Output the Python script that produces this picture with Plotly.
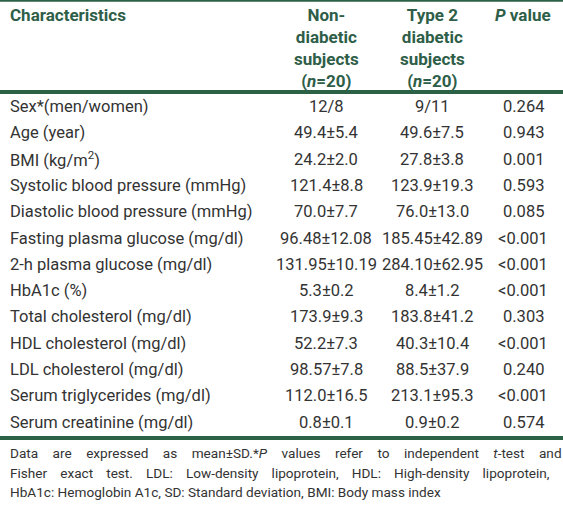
import plotly.graph_objects as go

characteristics = [
    "Sex*(men/women)", "Age (year)", "BMI (kg/m<sup>2</sup>)",
    "Systolic blood pressure (mmHg)", "Diastolic blood pressure (mmHg)",
    "Fasting plasma glucose (mg/dl)", "2-h plasma glucose (mg/dl)",
    "HbA1c (%)", "Total cholesterol (mg/dl)", "HDL cholesterol (mg/dl)",
    "LDL cholesterol (mg/dl)", "Serum triglycerides (mg/dl)",
    "Serum creatinine (mg/dl)",
]
non_diabetic = [
    "12/8", "49.4±5.4", "24.2±2.0", "121.4±8.8", "70.0±7.7",
    "96.48±12.08", "131.95±10.19", "5.3±0.2", "173.9±9.3", "52.2±7.3",
    "98.57±7.8", "112.0±16.5", "0.8±0.1",
]
type2_diabetic = [
    "9/11", "49.6±7.5", "27.8±3.8", "123.9±19.3", "76.0±13.0",
    "185.45±42.89", "284.10±62.95", "8.4±1.2", "183.8±41.2", "40.3±10.4",
    "88.5±37.9", "213.1±95.3", "0.9±0.2",
]
p_values = [
    "0.264", "0.943", "0.001", "0.593", "0.085", "<0.001", "<0.001",
    "<0.001", "0.303", "<0.001", "0.240", "<0.001", "0.574",
]
headers = [
    "Characteristics",
    "Non-<br>diabetic<br>subjects<br>(<i>n</i>=20)",
    "Type 2<br>diabetic<br>subjects<br>(<i>n</i>=20)",
    "<i>P</i> value",
]
footnote_lines = [
    "Data are expressed as mean±SD.*<i>P</i> values refer to independent <i>t</i>-test and",
    "Fisher exact test. LDL: Low-density lipoprotein, HDL: High-density lipoprotein,",
    "HbA1c: Hemoglobin A1c, SD: Standard deviation, BMI: Body mass index",
]
# extra spacing per word gap used to imitate the justified footnote
footnote_gaps = [" \u2002\u2009\u200a", " \u2002\u2009", " "]

W, H = 563, 507
FONT = "Roboto"
HEAD_COLOR = "#2e5e48"
LINE_COLOR = "#2b6246"
TEXT_COLOR = "#333333"

fig = go.Figure()
fig.add_trace(go.Scatter(x=[0, W], y=[0, H], mode="markers",
                         marker=dict(opacity=0), hoverinfo="skip", showlegend=False))

col_x = [8, 326, 432, 523]
head_top = 3
ann = []
ann.append(dict(x=col_x[0], y=head_top, text=headers[0], xanchor="left", yanchor="top"))
for j in (1, 2, 3):
    ann.append(dict(x=col_x[j], y=head_top, text=headers[j], xanchor="center", yanchor="top",
                    align="center"))
for a in ann:
    a.update(showarrow=False, xref="x", yref="y",
             font=dict(family=FONT, size=17, color=HEAD_COLOR, weight="bold"))

row0, step = 106.5, 26.3
body = []
for i, name in enumerate(characteristics):
    y = row0 + i * step
    body.append(dict(x=col_x[0], y=y, text=name, xanchor="left"))
    body.append(dict(x=col_x[1], y=y, text=non_diabetic[i], xanchor="center"))
    body.append(dict(x=col_x[2], y=y, text=type2_diabetic[i], xanchor="center"))
    body.append(dict(x=col_x[3], y=y, text=p_values[i], xanchor="center"))
for a in body:
    a.update(showarrow=False, xref="x", yref="y", yanchor="middle",
             font=dict(family=FONT, size=16.5, color=TEXT_COLOR))

foot = []
for k, line in enumerate(footnote_lines):
    txt = footnote_gaps[k].join(line.split(" "))
    foot.append(dict(x=8, y=453 + k * 19.5, text=txt, xanchor="left", yanchor="middle",
                     showarrow=False, xref="x", yref="y",
                     font=dict(family=FONT, size=13.6, color=TEXT_COLOR)))

fig.update_layout(annotations=ann + body + foot)

fig.add_shape(type="line", x0=0, x1=W, y0=0.8, y1=0.8, line=dict(color=LINE_COLOR, width=2))
fig.add_shape(type="line", x0=0, x1=W, y0=92, y1=92, line=dict(color=LINE_COLOR, width=4))
fig.add_shape(type="line", x0=0, x1=W, y0=438, y1=438, line=dict(color=LINE_COLOR, width=4))

fig.update_xaxes(range=[0, W], visible=False, fixedrange=True)
fig.update_yaxes(range=[H, 0], visible=False, fixedrange=True)
fig.update_layout(width=W, height=H, margin=dict(l=0, r=0, t=0, b=0),
                  plot_bgcolor="white", paper_bgcolor="white", showlegend=False)

fig.write_html("out.html", config={"displayModeBar": False},
               post_script="document.body.style.margin='0px';")
